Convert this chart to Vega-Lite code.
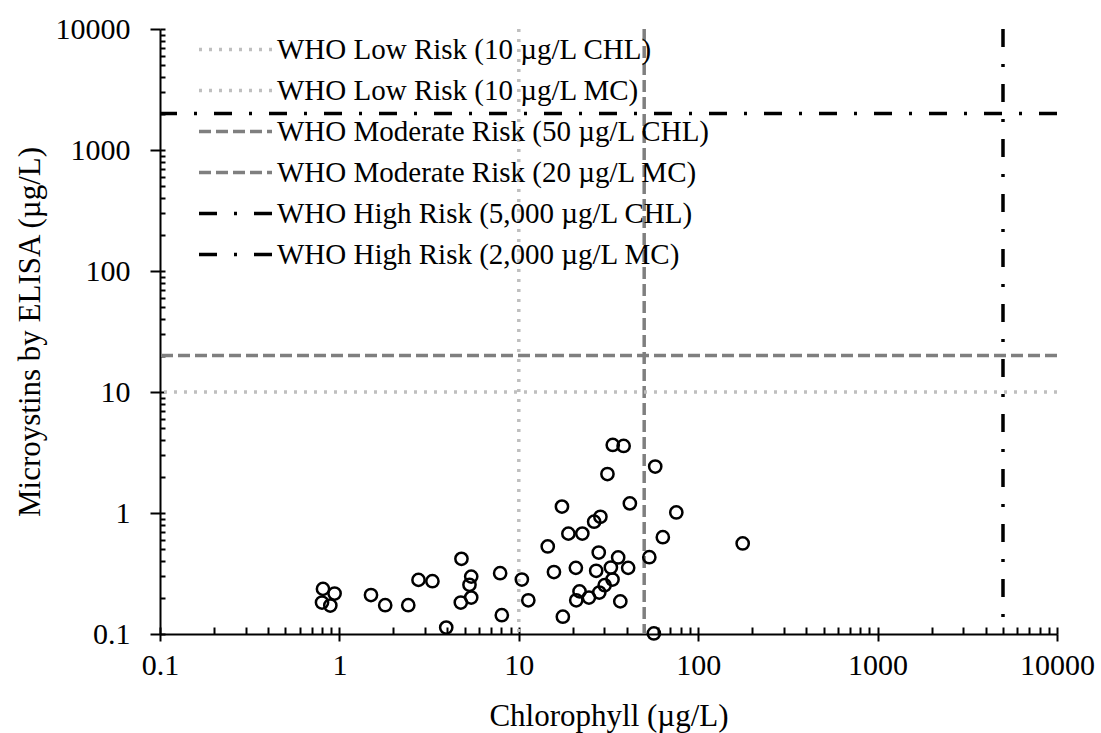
{
  "$schema": "https://vega.github.io/schema/vega-lite/v6.json",
  "autosize": {"type": "none"},
  "padding": {"left": 160, "top": 29, "right": 44, "bottom": 99},
  "width": 897,
  "height": 605,
  "background": "white",
  "config": {
    "view": {"stroke": null},
    "font": "Liberation Serif",
    "legend": {
      "symbolType": "stroke",
      "symbolSize": 5329,
      "symbolStrokeWidth": 3.5,
      "clipHeight": 41,
      "rowPadding": 0,
      "padding": 0,
      "labelOffset": 3,
      "labelFont": "Liberation Serif",
      "labelFontSize": 29,
      "labelColor": "black",
      "labelLimit": 0
    }
  },
  "datasets": {
    "points": [
      {"chl": 0.81, "mc": 0.236}, {"chl": 0.94, "mc": 0.216}, {"chl": 0.80, "mc": 0.182}, {"chl": 0.89, "mc": 0.172},
      {"chl": 1.50, "mc": 0.210}, {"chl": 1.80, "mc": 0.173}, {"chl": 2.42, "mc": 0.173}, {"chl": 2.76, "mc": 0.280},
      {"chl": 3.30, "mc": 0.273}, {"chl": 3.94, "mc": 0.113}, {"chl": 4.79, "mc": 0.418}, {"chl": 5.43, "mc": 0.298},
      {"chl": 5.31, "mc": 0.255}, {"chl": 5.43, "mc": 0.200}, {"chl": 4.75, "mc": 0.182}, {"chl": 7.87, "mc": 0.318},
      {"chl": 8.04, "mc": 0.143}, {"chl": 10.4, "mc": 0.282}, {"chl": 11.3, "mc": 0.190}, {"chl": 17.4, "mc": 1.13},
      {"chl": 14.5, "mc": 0.529}, {"chl": 18.9, "mc": 0.675}, {"chl": 22.6, "mc": 0.676}, {"chl": 15.7, "mc": 0.325},
      {"chl": 20.8, "mc": 0.352}, {"chl": 17.6, "mc": 0.139}, {"chl": 21.8, "mc": 0.225}, {"chl": 20.9, "mc": 0.190},
      {"chl": 24.6, "mc": 0.200}, {"chl": 28.1, "mc": 0.220}, {"chl": 30.1, "mc": 0.253}, {"chl": 33.3, "mc": 0.282},
      {"chl": 27.0, "mc": 0.333}, {"chl": 32.6, "mc": 0.354}, {"chl": 40.7, "mc": 0.352}, {"chl": 35.8, "mc": 0.429},
      {"chl": 27.9, "mc": 0.471}, {"chl": 26.3, "mc": 0.847}, {"chl": 28.5, "mc": 0.931}, {"chl": 31.2, "mc": 2.10},
      {"chl": 33.4, "mc": 3.65}, {"chl": 38.4, "mc": 3.58}, {"chl": 41.6, "mc": 1.20}, {"chl": 36.8, "mc": 0.186},
      {"chl": 57.6, "mc": 2.42}, {"chl": 75.5, "mc": 1.01}, {"chl": 63.5, "mc": 0.631}, {"chl": 53.4, "mc": 0.431},
      {"chl": 56.6, "mc": 0.101}, {"chl": 177, "mc": 0.560}
    ],
    "vlines": [
      {"name": "WHO Low Risk (10 µg/L CHL)", "x": 10},
      {"name": "WHO Moderate Risk (50 µg/L CHL)", "x": 50},
      {"name": "WHO High Risk (5,000 µg/L CHL)", "x": 5000}
    ],
    "hlines": [
      {"name": "WHO Low Risk (10 µg/L MC)", "y": 10},
      {"name": "WHO Moderate Risk (20 µg/L MC)", "y": 20},
      {"name": "WHO High Risk (2,000 µg/L MC)", "y": 2000}
    ]
  },
  "resolve": {"axis": {"x": "independent", "y": "independent"}},
  "layer": [
    {
      "data": {"name": "vlines"},
      "mark": {"type": "rule", "strokeWidth": 3.5},
      "encoding": {
        "x": {
          "field": "x", "type": "quantitative",
          "scale": {"type": "log", "domain": [0.1, 10000], "nice": false},
          "axis": {
            "orient": "bottom",
            "values": [0.1,0.2,0.3,0.4,0.5,0.6,0.7,0.8,0.9,1,2,3,4,5,6,7,8,9,10,20,30,40,50,60,70,80,90,100,200,300,400,500,600,700,800,900,1000,2000,3000,4000,5000,6000,7000,8000,9000,10000],
            "tickSize": -7, "tickWidth": 2, "tickColor": "black",
            "labels": false, "domain": false, "title": null, "grid": false
          }
        },
        "color": {
          "field": "name", "type": "nominal",
          "scale": {
            "domain": ["WHO Low Risk (10 µg/L CHL)", "WHO Low Risk (10 µg/L MC)", "WHO Moderate Risk (50 µg/L CHL)", "WHO Moderate Risk (20 µg/L MC)", "WHO High Risk (5,000 µg/L CHL)", "WHO High Risk (2,000 µg/L MC)"],
            "range": ["#BFBFBF", "#BFBFBF", "#7F7F7F", "#7F7F7F", "#000000", "#000000"]
          },
          "legend": {"title": null, "orient": "none", "legendX": 37, "legendY": 0}
        },
        "strokeDash": {
          "field": "name", "type": "nominal",
          "scale": {
            "domain": ["WHO Low Risk (10 µg/L CHL)", "WHO Low Risk (10 µg/L MC)", "WHO Moderate Risk (50 µg/L CHL)", "WHO Moderate Risk (20 µg/L MC)", "WHO High Risk (5,000 µg/L CHL)", "WHO High Risk (2,000 µg/L MC)"],
            "range": [[3, 7], [3, 7], [12, 5], [12, 5], [18, 17, 3, 17], [18, 17, 3, 17]]
          },
          "legend": {"title": null, "orient": "none", "legendX": 37, "legendY": 0}
        }
      }
    },
    {
      "data": {"name": "hlines"},
      "mark": {"type": "rule", "strokeWidth": 3.5},
      "encoding": {
        "y": {
          "field": "y", "type": "quantitative",
          "scale": {"type": "log", "domain": [0.1, 10000], "nice": false},
          "axis": {
            "orient": "left",
            "values": [0.1,0.2,0.3,0.4,0.5,0.6,0.7,0.8,0.9,1,2,3,4,5,6,7,8,9,10,20,30,40,50,60,70,80,90,100,200,300,400,500,600,700,800,900,1000,2000,3000,4000,5000,6000,7000,8000,9000,10000],
            "tickSize": -5, "tickWidth": 2, "tickColor": "black",
            "labels": false, "domain": false, "title": null, "grid": false
          }
        },
        "color": {
          "field": "name", "type": "nominal",
          "legend": {"title": null, "orient": "none", "legendX": 37, "legendY": 0}
        },
        "strokeDash": {
          "field": "name", "type": "nominal",
          "legend": {"title": null, "orient": "none", "legendX": 37, "legendY": 0}
        }
      }
    },
    {
      "data": {"name": "points"},
      "mark": {"type": "point", "shape": "circle", "filled": false, "stroke": "black", "strokeWidth": 2.5, "size": 150, "opacity": 1},
      "encoding": {
        "x": {
          "field": "chl", "type": "quantitative",
          "scale": {"type": "log", "domain": [0.1, 10000], "nice": false},
          "axis": {
            "orient": "bottom",
            "title": "Chlorophyll (µg/L)",
            "values": [0.1, 1, 10, 100, 1000, 10000],
            "format": "~g",
            "tickSize": 7, "tickWidth": 2, "tickColor": "black",
            "domainColor": "black", "domainWidth": 2,
            "labelFont": "Liberation Serif", "labelFontSize": 30, "labelColor": "black", "labelPadding": 9,
            "labelFlush": false, "labelOverlap": false,
            "titleFont": "Liberation Serif", "titleFontSize": 31, "titleFontWeight": "normal", "titleColor": "black", "titlePadding": 21,
            "grid": false
          }
        },
        "y": {
          "field": "mc", "type": "quantitative",
          "scale": {"type": "log", "domain": [0.1, 10000], "nice": false},
          "axis": {
            "orient": "left",
            "title": "Microystins by ELISA (µg/L)",
            "values": [0.1, 1, 10, 100, 1000, 10000],
            "format": "~g",
            "tickSize": 10, "tickWidth": 2, "tickColor": "black",
            "domainColor": "black", "domainWidth": 2,
            "labelFont": "Liberation Serif", "labelFontSize": 30, "labelColor": "black", "labelPadding": 20,
            "labelFlush": false, "labelOverlap": false,
            "titleFont": "Liberation Serif", "titleFontSize": 31, "titleFontWeight": "normal", "titleColor": "black", "titlePadding": 9,
            "grid": false
          }
        }
      }
    }
  ]
}
